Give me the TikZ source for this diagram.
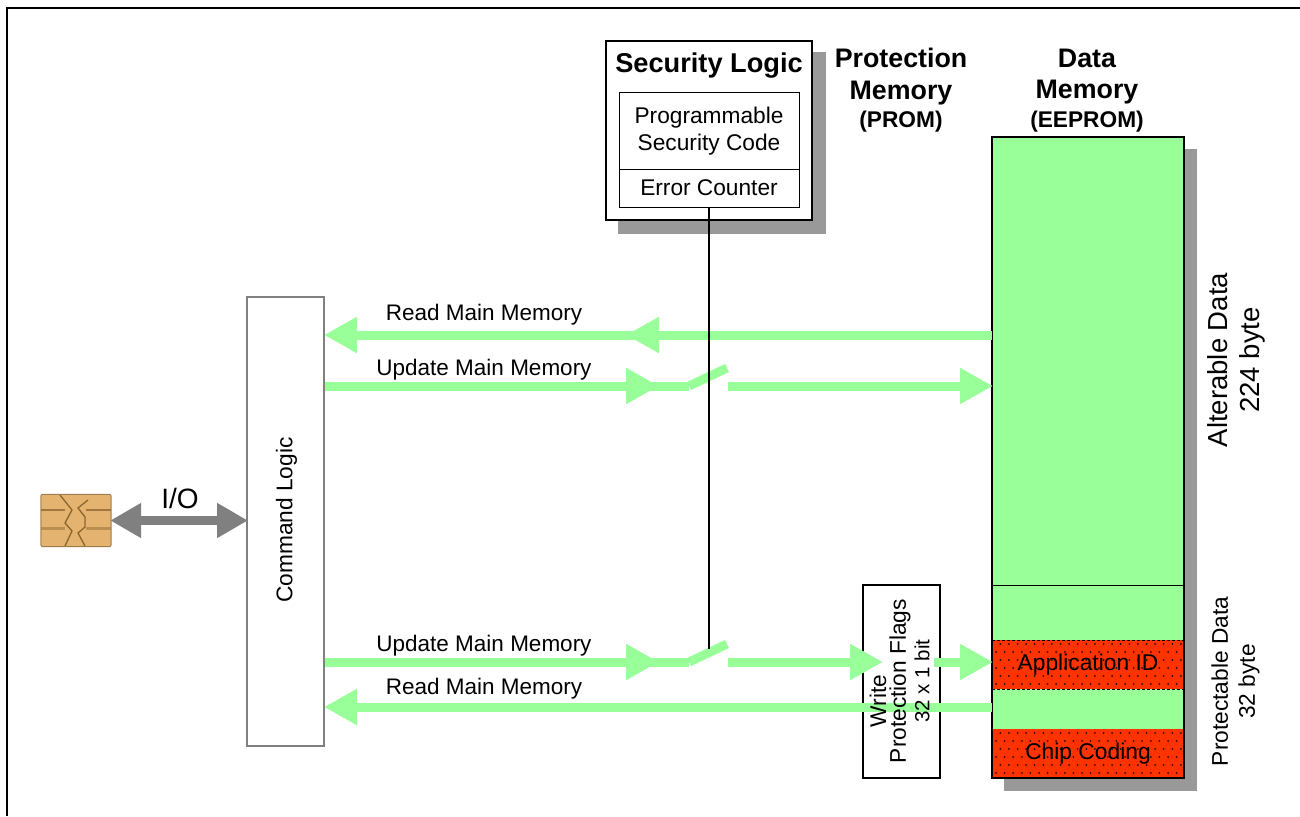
\documentclass[tikz,border=0pt]{standalone}
\usepackage{fontspec}
\setmainfont{Liberation Sans}
\usetikzlibrary{arrows.meta}
\definecolor{flow}{HTML}{99FF99}
\definecolor{redf}{HTML}{FF3300}
\definecolor{shadowg}{HTML}{999999}
\definecolor{iog}{HTML}{808080}
\definecolor{chipc}{HTML}{E3B36F}
\definecolor{chipd}{HTML}{8A6530}
\newcommand{\fs}[1]{\fontsize{#1}{#1}\selectfont}
\begin{document}
\begin{tikzpicture}[x=1pt,y=-1pt,
 flowline/.style={draw=flow,line width=9pt},
 flowarrow/.style={flowline,shorten >=-1pt,-{Triangle[length=33pt,width=34pt]}},
 ioarrow/.style={draw=iog,line width=9pt,shorten >=-2pt,shorten <=-1pt,{Triangle[length=31pt,width=33pt]}-{Triangle[length=31pt,width=33pt]}},
 box/.style={draw=black,line width=2pt,fill=white,inner sep=0pt},
 txt/.style={inner sep=0pt,align=center,text=black},
 thin box/.style={draw=black,line width=.8pt,inner sep=0pt},
 redband/.style={fill=redf,draw=none,inner sep=0pt,minimum width=192pt,minimum height=49pt}]
\useasboundingbox (0,0) rectangle (1300,816);
\fill[white] (0,0) rectangle (1300,816);
\draw[line width=2.2pt] (7,816) -- (7,8) -- (1300,8);
% shadows
\fill[shadowg] (618,52) rectangle (826,234);
\fill[shadowg] (1004,149) rectangle (1197,791);
% security
\node[box,minimum width=206pt,minimum height=179pt] (sec) at (709,130.5) {};
\node[txt,font=\fs{27.2}\bfseries] (seclab) at (709,65.5) {Security Logic};
\node[thin box,minimum width=180pt,minimum height=77pt] (codebox) at (709,130.5) {};
\node[thin box,minimum width=180pt,minimum height=38pt] (errbox) at (709,188) {};
\node[txt,font=\fs{22.7}] (code) at (709,131) {Programmable\\[4.3pt]Security Code};
\node[txt,font=\fs{22.7}] (err) at (709,187.5) {Error Counter};
% titles
\node[txt,font=\fs{26.8}\bfseries] (pm) at (901,76.5) {Protection\\[5pt]Memory};
\node[txt,font=\fs{22.7}\bfseries] (prom) at (901,122) {(PROM)};
\node[txt,font=\fs{26.8}\bfseries] (dm) at (1087,76.5) {Data\\[5pt]Memory};
\node[txt,font=\fs{22.7}\bfseries] (ee) at (1087,122) {(EEPROM)};
% data memory
\node[fill=flow,draw=none,inner sep=0pt,minimum width=192pt,minimum height=641pt] (dmem) at (1088,457.5) {};
\node[redband] (appband) at (1088,664.5) {};
\node[redband] (chipband) at (1088,753.5) {};
\foreach \y [count=\i] in {644,652,...,684}{
  \pgfmathsetmacro{\off}{mod(\i,2)*4.3}
  \foreach \k in {0,...,21}{
    \fill[black!85!redf] ({996+\off+\k*8.6},\y) circle (1pt);
  }
}
\foreach \y [count=\i] in {733,741,...,773}{
  \pgfmathsetmacro{\off}{mod(\i,2)*4.3}
  \foreach \k in {0,...,21}{
    \fill[black!85!redf] ({996+\off+\k*8.6},\y) circle (1pt);
  }
}
\draw[densely dashed,line width=.6pt] (appband.north west) -- (appband.north east) (appband.south west) -- (appband.south east);
\coordinate (splitl) at (992,585.5);
\coordinate (splitr) at (1184,585.5);
\draw[line width=.9pt] (splitl) -- (splitr);
\draw[line width=2pt] (dmem.north west) rectangle (dmem.south east);
\node[txt,font=\fs{22.8}] (app) at (1088,665) {Application ID};
\node[txt,font=\fs{22.8}] (chip) at (1088,754) {Chip Coding};
\node[txt,font=\fs{27.5},rotate=90] (alt) at (1236.5,360) {Alterable Data\\[4.5pt]224 byte};
\node[txt,font=\fs{22.7},rotate=90] (pro) at (1235.5,681.5) {Protectable Data\\[4.3pt]32 byte};
% command logic
\node[draw=iog,line width=2pt,fill=white,minimum width=77pt,minimum height=449pt,inner sep=0pt] (cmd) at (285.5,521.5) {};
\node[txt,font=\fs{22.7},rotate=90] (cmdl) at (286.5,520) {Command Logic};
% write protection box
\node[box,minimum width=77pt,minimum height=193pt] (wp) at (901.5,681.5) {};
% chip
\node[fill=chipc,draw=none,rounded corners=2pt,inner sep=0pt,minimum width=70pt,minimum height=52pt] (chipn) at (76,520.5) {};
\begin{scope}[draw=chipd]
\draw[line width=1pt,draw opacity=.8,rounded corners=2pt] (chipn.north west) rectangle (chipn.south east);
\draw[line width=2.2pt,draw opacity=.75] (41,510) -- (65,510) (86,510) -- (111,510);
\draw[line width=3pt,draw opacity=.45] (41,528) -- (65,528) (86,528) -- (111,528);
\draw[line width=1.3pt] (60,495) -- (72,510) -- (65,523) -- (72,531) -- (65,546);
\draw[line width=1.3pt] (88,500) -- (78,508) -- (85,517) -- (85,527) -- (78,533) -- (85,546);
\end{scope}
% IO arrow
\draw[ioarrow] (chipn.east) -- (cmd.west |- chipn.east);
\node[txt,font=\fs{28}] (io) at (180,498) {I/O};
% flows
\coordinate (r1m) at (627,335);
\coordinate (r1k) at (650,335);
\coordinate (r1d) at (992,335);
\coordinate (r1c) at (325,335);
\coordinate (u1c) at (325,386);
\coordinate (u1m) at (658,386);
\coordinate (u1k) at (640,386);
\coordinate (u1a) at (689,386);
\coordinate (u1b) at (727,368);
\coordinate (u1s) at (728,386);
\coordinate (u1d) at (992,386);
\coordinate (u2c) at (325,662);
\coordinate (u2m) at (658,662);
\coordinate (u2k) at (640,662);
\coordinate (u2a) at (689,662);
\coordinate (u2b) at (727,644);
\coordinate (u2s) at (728,662);
\coordinate (u2w) at (882,662);
\coordinate (u3s) at (934,662);
\coordinate (u3d) at (992,662);
\coordinate (r2d) at (992,707);
\coordinate (r2c) at (325,707);
\draw[flowarrow] (r1d) -- (r1m);
\draw[flowarrow] (r1k) -- (r1c);
\draw[flowarrow] (u1c) -- (u1m);
\draw[flowline] (u1k) -- (u1a);
\draw[flowline] (u1a) -- (u1b);
\draw[flowarrow] (u1s) -- (u1d);
\draw[flowarrow] (u2c) -- (u2m);
\draw[flowline] (u2k) -- (u2a);
\draw[flowline] (u2a) -- (u2b);
\draw[flowarrow] (u2s) -- (u2w);
\draw[flowarrow] (u3s) -- (u3d);
\draw[flowarrow] (r2d) -- (r2c);
% control line
\coordinate (swb) at (709,649);
\draw[line width=2pt] (errbox.south) -- (swb);
% labels
\node[txt,font=\fs{22.5}] (l1) at (484,315) {Read Main Memory};
\node[txt,font=\fs{22.5}] (l2) at (484,370) {Update Main Memory};
\node[txt,font=\fs{22.5}] (l3) at (484,646) {Update Main Memory};
\node[txt,font=\fs{22.5}] (l4) at (484,689) {Read Main Memory};
\node[txt,font=\fs{22.7},rotate=90] (wpa) at (878,701) {Write};
\node[txt,font=\fs{22.7},rotate=90] (wpb) at (900,681) {Protection Flags};
\node[txt,font=\fs{20.5},rotate=90] (wpc) at (922,681) {32 x 1 bit};
\end{tikzpicture}
\end{document}
